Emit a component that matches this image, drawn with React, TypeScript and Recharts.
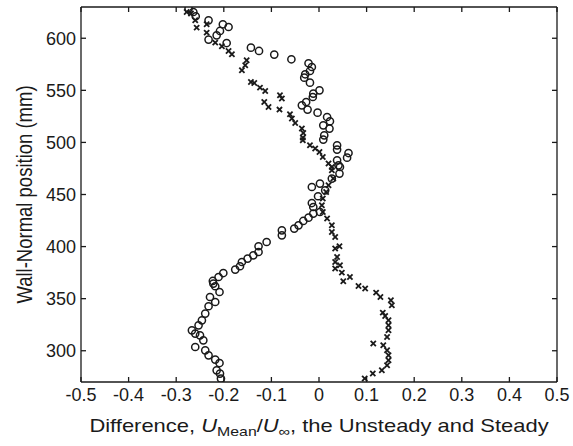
import React from "react";
import { ScatterChart, Scatter, XAxis, YAxis, Label } from "recharts";

// tick values
const xTicks = [-0.5, -0.4, -0.3, -0.2, -0.1, 0, 0.1, 0.2, 0.3, 0.4, 0.5];
const yTicks = [300, 350, 400, 450, 500, 550, 600];

// open circles
const circleX = [
  -0.274, -0.264, -0.259, -0.232, -0.202, -0.19, -0.208, -0.215, -0.232, -0.194,
  -0.143, -0.126, -0.094, -0.058, -0.022, -0.015, -0.019, -0.029, -0.031, -0.019,
  0.001, -0.012, -0.013, -0.027, -0.036, -0.024, -0.003, 0.017, 0.023, 0.009,
  0.022, 0.011, 0.009, 0.038, 0.038, 0.062, 0.059, 0.038, 0.041, 0.044,
  0.043, 0.027, 0.002, -0.015, 0.013, -0.002, -0.015, -0.012, 0.002, -0.012,
  -0.022, -0.033, -0.043, -0.052, -0.078, -0.078, -0.11, -0.127, -0.127, -0.138,
  -0.15, -0.162, -0.166, -0.176, -0.201, -0.211, -0.223, -0.222, -0.218, -0.209,
  -0.229, -0.218, -0.232, -0.239, -0.246, -0.253, -0.267, -0.26, -0.25, -0.243,
  -0.26, -0.239, -0.232, -0.218, -0.209, -0.215, -0.208, -0.206,
];
const circleY = [
  628.5, 625.2, 621.1, 617.2, 613.4, 610.8, 607.0, 602.8, 598.7, 595.4,
  591.0, 587.8, 584.3, 579.8, 576.0, 572.4, 568.6, 565.4, 562.2, 557.4,
  550.0, 546.9, 543.6, 538.8, 535.6, 531.5, 528.6, 524.4, 520.3, 516.4,
  513.3, 506.8, 502.7, 497.2, 493.1, 489.8, 485.4, 482.8, 478.0, 476.4,
  470.1, 465.3, 460.5, 457.2, 454.0, 448.3, 441.8, 438.0, 433.2, 431.7,
  427.8, 424.6, 420.4, 417.3, 415.6, 410.8, 404.4, 400.3, 394.8, 391.6,
  388.5, 385.2, 381.1, 377.9, 374.6, 370.8, 367.0, 364.5, 361.9, 356.4,
  351.6, 346.8, 342.7, 335.7, 329.2, 324.4, 319.6, 316.5, 314.8, 310.0,
  303.6, 300.4, 295.6, 291.5, 288.2, 281.2, 278.1, 273.3,
];

// x markers
const crossX = [
  -0.278, -0.269, -0.26, -0.257, -0.236, -0.236, -0.218, -0.204, -0.19, -0.183,
  -0.152, -0.155, -0.162, -0.143, -0.136, -0.124, -0.113, -0.082, -0.078, -0.115,
  -0.106, -0.083, -0.061, -0.057, -0.05, -0.036, -0.033, -0.034, -0.034, -0.019,
  -0.008, 0.001, 0.008, 0.02, 0.027, 0.027, 0.03, 0.02, 0.015, 0.008,
  0.006, 0.008, 0.017, 0.027, 0.027, 0.034, 0.043, 0.034, 0.038, 0.034,
  0.044, 0.034, 0.048, 0.065, 0.051, 0.083, 0.097, 0.12, 0.129, 0.151,
  0.153, 0.134, 0.139, 0.146, 0.146, 0.146, 0.143, 0.114, 0.135, 0.143,
  0.146, 0.146, 0.143, 0.132, 0.113, 0.096,
];
const crossY = [
  625.2, 623.7, 617.2, 610.2, 613.4, 605.4, 595.8, 592.3, 587.8, 584.6,
  578.8, 574.0, 569.2, 558.0, 557.0, 552.6, 549.4, 545.2, 542.1, 538.8,
  534.0, 531.5, 527.0, 522.9, 518.6, 513.3, 509.0, 504.6, 502.0, 497.2,
  494.1, 490.8, 486.0, 479.7, 476.4, 473.2, 465.3, 458.8, 452.4, 446.1,
  439.6, 433.2, 426.9, 420.4, 414.0, 409.2, 400.3, 398.1, 390.0, 385.2,
  382.0, 378.9, 375.0, 370.8, 366.7, 362.2, 359.7, 355.8, 351.6, 348.4,
  343.6, 336.6, 333.4, 329.2, 324.4, 319.6, 313.2, 306.9, 305.2, 300.4,
  295.6, 290.8, 286.0, 281.2, 278.1, 273.3,
];

const circles = circleX.map((x, i) => ({ x, y: circleY[i] }));
const crosses = crossX.map((x, i) => ({ x, y: crossY[i] }));

const FONT = "'Liberation Sans', Arial, sans-serif";
const INK = "#1a1a1a";
const STRETCH = 1.22; // the figure is wider than tall, text looks stretched

const fmtX = (v: number) => String(Math.round(v * 10) / 10);

const Circle = (p: any) => (
  <circle cx={p.cx} cy={p.cy} r={3.6} fill="none" stroke={INK} strokeWidth={1.5} />
);

const Cross = (p: any) => {
  const s = 2.6;
  return (
    <g stroke={INK} strokeWidth={1.8}>
      <line x1={p.cx - s} y1={p.cy - s} x2={p.cx + s} y2={p.cy + s} />
      <line x1={p.cx - s} y1={p.cy + s} x2={p.cx + s} y2={p.cy - s} />
    </g>
  );
};

const XTitle = (props: any) => {
  const vb = props.viewBox;
  const cx = vb.x + vb.width / 2;
  const by = vb.y + 49.5;
  return (
    <g transform={`translate(${cx} ${by}) scale(${STRETCH} 1)`}>
      <text x={0} y={0} textAnchor="middle" fontSize={18} fontFamily={FONT} fill={INK}>
        Difference, <tspan fontStyle="italic">U</tspan>
        <tspan fontSize={13} dy={4}>Mean</tspan>
        <tspan dy={-4}>/</tspan>
        <tspan fontStyle="italic">U</tspan>
        <tspan fontSize={13} dy={4}>∞</tspan>
        <tspan dy={-4}>, the Unsteady and Steady</tspan>
      </text>
    </g>
  );
};

const YTitle = (props: any) => {
  const vb = props.viewBox;
  const x = vb.x + 31.5;
  const y = vb.y + vb.height / 2;
  return (
    <g transform={`translate(${x} ${y}) scale(${STRETCH} 1) rotate(-90)`}>
      <text x={0} y={0} textAnchor="middle" fontSize={18.5} fontFamily={FONT} fill={INK}>
        Wall-Normal position (mm)
      </text>
    </g>
  );
};

const tickStyle = { fill: INK, fontSize: 18, fontFamily: FONT };

export default function App() {
  return (
    <div style={{ position: "absolute", left: 0, top: 0, background: "#fff" }}>
      <ScatterChart width={573} height={446} margin={{ top: 6, right: 15, bottom: 0, left: 0 }}>
        <XAxis
          xAxisId="b"
          type="number"
          dataKey="x"
          domain={[-0.5, 0.5]}
          ticks={xTicks}
          allowDataOverflow
          height={64}
          tickSize={-5}
          tickMargin={11}
          tickFormatter={fmtX}
          stroke={INK}
          strokeWidth={1.3}
          tick={tickStyle}
        >
          <Label content={XTitle} />
        </XAxis>
        <XAxis
          xAxisId="t"
          orientation="top"
          type="number"
          dataKey="x"
          domain={[-0.5, 0.5]}
          ticks={xTicks}
          allowDataOverflow
          height={1}
          tickSize={-5}
          tickFormatter={() => ""}
          stroke={INK}
          strokeWidth={1.3}
        />
        <YAxis
          yAxisId="l"
          type="number"
          dataKey="y"
          domain={[270, 630]}
          ticks={yTicks}
          allowDataOverflow
          width={81}
          tickSize={-5}
          tickMargin={10}
          stroke={INK}
          strokeWidth={1.3}
          tick={tickStyle}
        >
          <Label content={YTitle} />
        </YAxis>
        <YAxis
          yAxisId="r"
          orientation="right"
          type="number"
          dataKey="y"
          domain={[270, 630]}
          ticks={yTicks}
          allowDataOverflow
          width={1}
          tickSize={-5}
          tickFormatter={() => ""}
          stroke={INK}
          strokeWidth={1.3}
        />
        <Scatter
          data={circles}
          xAxisId="b"
          yAxisId="l"
          shape={Circle}
          isAnimationActive={false}
        />
        <Scatter
          data={crosses}
          xAxisId="b"
          yAxisId="l"
          shape={Cross}
          isAnimationActive={false}
        />
      </ScatterChart>
    </div>
  );
}
